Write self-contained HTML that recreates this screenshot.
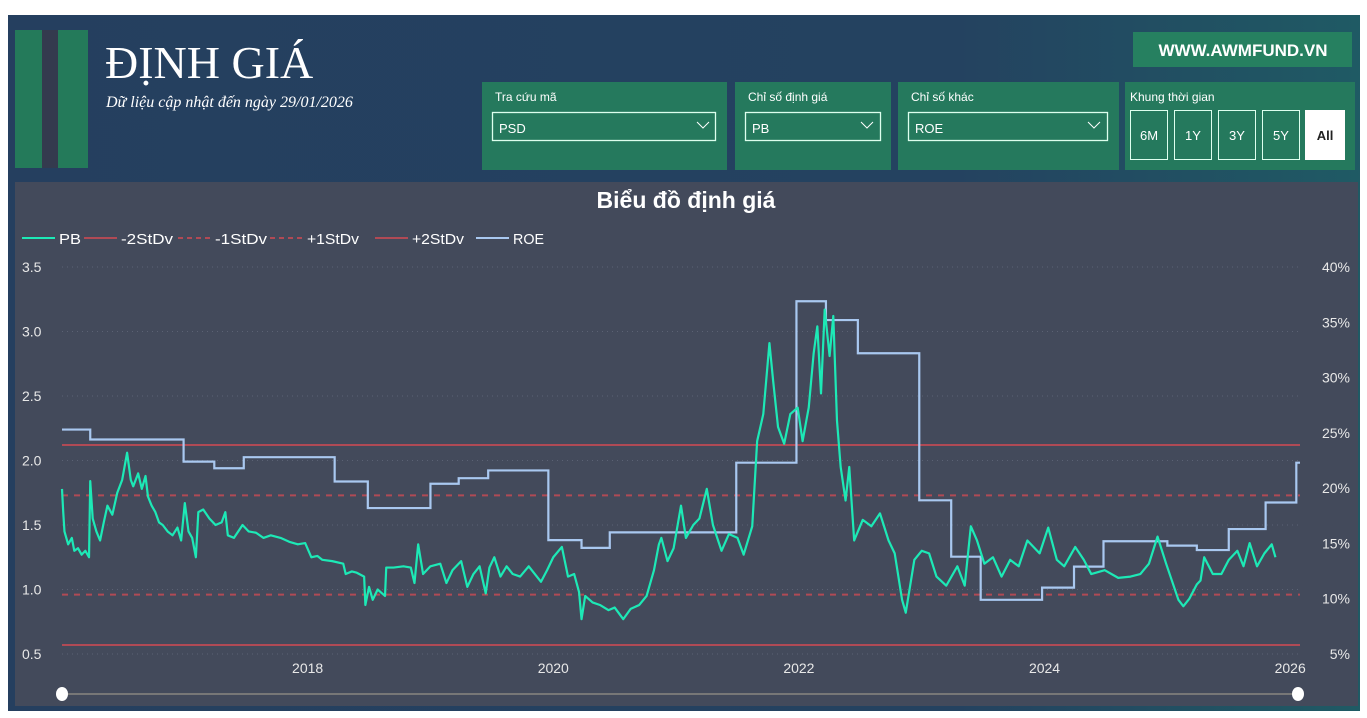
<!DOCTYPE html>
<html><head><meta charset="utf-8"><style>
body{margin:0;background:#fff;width:1367px;height:718px;overflow:hidden}
svg{display:block;font-family:"Liberation Sans","DejaVu Sans",sans-serif}
</style></head><body>
<svg id="s" width="1367" height="718" viewBox="0 0 1367 718">
<defs><linearGradient id="bg" x1="0" y1="0" x2="1" y2="0"><stop offset="0" stop-color="#253f5f"/><stop offset="0.7" stop-color="#244260"/><stop offset="1" stop-color="#1f5a64"/></linearGradient></defs>
<rect x="8" y="15" width="1352" height="696" fill="url(#bg)"/>
<g>
<rect x="15" y="30" width="27" height="138" fill="#247a5a"/><rect x="42" y="30" width="16" height="138" fill="#343a4e"/><rect x="58" y="30" width="30" height="138" fill="#247a5a"/></g>
<text x="105" y="78" font-family="Liberation Serif,serif" font-size="46" fill="#fff">ĐỊNH GIÁ</text>
<text x="106" y="107" font-family="Liberation Serif,serif" font-style="italic" font-size="16" fill="#fff">Dữ liệu cập nhật đến ngày 29/01/2026</text>
<g><rect x="1133" y="32" width="219" height="35" fill="#268060"/><text x="1243" y="56" text-anchor="middle" font-size="17" font-weight="bold" fill="#fff">WWW.AWMFUND.VN</text></g>
<g><rect x="482" y="82" width="245" height="88" fill="#25795d"/><text x="495" y="101" font-size="12" fill="#fff">Tra cứu mã</text>
<g><rect x="492.5" y="112.5" width="223" height="28" fill="none" stroke="#dfe" stroke-width="1.3"/><text x="499" y="133" font-size="13" fill="#fff">PSD</text><path d="M697 122l6 6 6-6" fill="none" stroke="#fff"/></g></g>
<g><rect x="735" y="82" width="156" height="88" fill="#25795d"/><text x="748" y="101" font-size="12" fill="#fff">Chỉ số định giá</text>
<g><rect x="745.5" y="112.5" width="135" height="28" fill="none" stroke="#dfe" stroke-width="1.3"/><text x="752" y="133" font-size="13" fill="#fff">PB</text><path d="M861 122l6 6 6-6" fill="none" stroke="#fff"/></g></g>
<g><rect x="898" y="82" width="221" height="88" fill="#25795d"/><text x="911" y="101" font-size="12" fill="#fff">Chỉ số khác</text>
<g><rect x="908.5" y="112.5" width="199" height="28" fill="none" stroke="#dfe" stroke-width="1.3"/><text x="915" y="133" font-size="13" fill="#fff">ROE</text><path d="M1088 122l6 6 6-6" fill="none" stroke="#fff"/></g></g>
<g><rect x="1125" y="82" width="230" height="88" fill="#25795d"/><text x="1130" y="101" font-size="12" fill="#fff">Khung thời gian</text>
<g><rect x="1130.5" y="110.5" width="37" height="49" fill="none" stroke="#dfe"/><text x="1149" y="140" text-anchor="middle" font-size="13" fill="#fff">6M</text></g>
<g><rect x="1174.5" y="110.5" width="37" height="49" fill="none" stroke="#dfe"/><text x="1193" y="140" text-anchor="middle" font-size="13" fill="#fff">1Y</text></g>
<g><rect x="1218.5" y="110.5" width="37" height="49" fill="none" stroke="#dfe"/><text x="1237" y="140" text-anchor="middle" font-size="13" fill="#fff">3Y</text></g>
<g><rect x="1262.5" y="110.5" width="37" height="49" fill="none" stroke="#dfe"/><text x="1281" y="140" text-anchor="middle" font-size="13" fill="#fff">5Y</text></g>
<g><rect x="1305" y="110" width="40" height="50" fill="#fff"/><text x="1325" y="140" text-anchor="middle" font-size="13" font-weight="bold" fill="#222">All</text></g></g>
<rect x="15" y="182" width="1343" height="524" fill="#434a5b"/>
<text x="686" y="208" text-anchor="middle" font-size="23" font-weight="bold" fill="#fff">Biểu đồ định giá</text>
<g id="legend" fill="#fff"></g>
<g id="grid"></g><g id="axes"></g><g id="marks"></g>
<g><line x1="62" y1="694" x2="1298" y2="694" stroke="#777" stroke-width="2"/>
<ellipse cx="62" cy="694" rx="6" ry="7" fill="#fff"/><ellipse cx="1298" cy="694" rx="6" ry="7" fill="#fff"/></g>
</svg>
<script>
const leftTicks=[0.5,1.0,1.5,2.0,2.5,3.0,3.5];
const rightTicks=[5,10,15,20,25,30,35,40];
const xTicks=[2018,2020,2022,2024,2026];
const stdNames=["-2StDv","-1StDv","+1StDv","+2StDv"];
const stdValues=[0.57,0.96,1.73,2.12];
const roeDates=[2016.0,2016.23,2016.99,2017.24,2017.48,2018.22,2018.49,2019.0,2019.23,2019.47,2019.96,2020.23,2020.46,2021.46,2021.49,2021.98,2022.22,2022.48,2022.98,2023.24,2023.48,2023.98,2024.24,2024.48,2025.0,2025.24,2025.5,2025.8,2026.05,2026.08];
const roeValues=[25.3,24.4,22.4,21.8,22.8,20.6,18.2,20.4,20.9,21.6,15.3,14.6,16.0,16.0,22.3,36.9,35.2,32.2,18.9,13.8,9.9,11.0,12.9,15.2,14.8,14.4,16.3,18.7,22.3,22.3];
const pbDates=[2016.0,2016.01,2016.02,2016.05,2016.08,2016.1,2016.13,2016.16,2016.19,2016.22,2016.23,2016.25,2016.28,2016.31,2016.34,2016.37,2016.41,2016.45,2016.49,2016.53,2016.56,2016.58,2016.62,2016.65,2016.68,2016.7,2016.73,2016.76,2016.79,2016.82,2016.86,2016.9,2016.94,2016.97,2017.0,2017.03,2017.06,2017.09,2017.11,2017.15,2017.2,2017.25,2017.3,2017.33,2017.35,2017.4,2017.47,2017.52,2017.58,2017.64,2017.7,2017.78,2017.85,2017.92,2017.98,2018.03,2018.08,2018.12,2018.2,2018.29,2018.31,2018.36,2018.4,2018.46,2018.47,2018.5,2018.53,2018.57,2018.63,2018.64,2018.7,2018.78,2018.84,2018.87,2018.9,2018.94,2019.0,2019.08,2019.13,2019.18,2019.25,2019.3,2019.35,2019.4,2019.45,2019.48,2019.52,2019.57,2019.62,2019.67,2019.73,2019.8,2019.85,2019.9,2019.95,2020.0,2020.07,2020.12,2020.17,2020.21,2020.23,2020.26,2020.32,2020.38,2020.45,2020.5,2020.57,2020.63,2020.7,2020.76,2020.82,2020.86,2020.88,2020.93,2020.98,2021.04,2021.08,2021.14,2021.19,2021.25,2021.3,2021.37,2021.43,2021.5,2021.55,2021.62,2021.66,2021.71,2021.76,2021.79,2021.83,2021.88,2021.93,2021.99,2022.03,2022.08,2022.12,2022.15,2022.18,2022.21,2022.25,2022.28,2022.31,2022.34,2022.38,2022.41,2022.45,2022.52,2022.59,2022.66,2022.73,2022.78,2022.84,2022.87,2022.94,2023.0,2023.06,2023.12,2023.2,2023.29,2023.35,2023.4,2023.45,2023.51,2023.58,2023.65,2023.72,2023.79,2023.86,2023.96,2024.03,2024.1,2024.16,2024.25,2024.32,2024.38,2024.49,2024.6,2024.7,2024.78,2024.85,2024.92,2024.99,2025.09,2025.13,2025.18,2025.24,2025.27,2025.3,2025.37,2025.44,2025.5,2025.57,2025.62,2025.67,2025.73,2025.79,2025.85,2025.88,2025.92,2025.96,2026.0,2026.03,2026.06];
const pbValues=[1.78,1.6,1.45,1.35,1.40,1.30,1.32,1.27,1.30,1.25,1.84,1.55,1.45,1.38,1.52,1.65,1.58,1.75,1.85,2.06,1.85,1.80,1.90,1.78,1.88,1.72,1.65,1.60,1.52,1.50,1.45,1.42,1.48,1.38,1.67,1.45,1.40,1.25,1.60,1.62,1.55,1.50,1.52,1.60,1.42,1.40,1.50,1.45,1.44,1.40,1.42,1.40,1.37,1.35,1.36,1.25,1.26,1.23,1.22,1.20,1.12,1.14,1.13,1.10,0.88,1.02,0.92,1.00,0.95,1.17,1.17,1.18,1.17,1.05,1.35,1.12,1.18,1.20,1.05,1.15,1.22,1.02,1.12,1.18,0.97,1.17,1.25,1.10,1.18,1.12,1.10,1.18,1.12,1.06,1.15,1.25,1.33,1.10,1.12,0.98,0.77,0.95,0.90,0.88,0.84,0.86,0.77,0.85,0.88,0.95,1.15,1.35,1.40,1.22,1.32,1.65,1.40,1.50,1.55,1.78,1.50,1.30,1.43,1.40,1.27,1.49,2.15,2.36,2.91,2.62,2.26,2.13,2.36,2.41,2.15,2.41,2.83,3.04,2.52,3.17,2.81,3.12,2.31,1.95,1.69,1.95,1.38,1.54,1.49,1.59,1.38,1.28,0.92,0.82,1.23,1.30,1.28,1.10,1.03,1.18,1.03,1.49,1.38,1.20,1.25,1.10,1.23,1.18,1.38,1.28,1.48,1.23,1.18,1.33,1.23,1.12,1.15,1.09,1.10,1.12,1.20,1.41,1.20,0.92,0.87,0.93,1.04,1.07,1.25,1.12,1.12,1.23,1.30,1.18,1.36,1.18,1.28,1.35,1.25];

const NS="http://www.w3.org/2000/svg";
const X0=62,X1=1300,T0=2016.0,T1=2026.08;
function xs(t){return X0+(t-T0)/(T1-T0)*(X1-X0);}
function yl(v){return 654-(v-0.5)*129;}
function yr(p){return 654-(p-5)*(387/35);}
function mk(tag,attrs,parent){const e=document.createElementNS(NS,tag);for(const k in attrs)e.setAttribute(k,attrs[k]);parent.appendChild(e);return e;}
const grid=document.getElementById('grid'),axes=document.getElementById('axes'),marks=document.getElementById('marks'),legend=document.getElementById('legend');
leftTicks.forEach(v=>{
  const l=mk('line',{x1:62,x2:1300,y1:yl(v),y2:yl(v),stroke:'#5b6274','stroke-dasharray':'1 4'},grid);
  
  
  const t=mk('text',{x:22,y:yl(v)+5,'font-size':14,fill:'#e8e8e8'},axes);t.textContent=v.toFixed(1);
  
  
});
rightTicks.forEach(p=>{
  const t=mk('text',{x:1350,y:yr(p)+5,'font-size':14,fill:'#e8e8e8','text-anchor':'end'},axes);t.textContent=p+'%';
  
  
});
xTicks.forEach(y=>{
  const t=mk('text',{x:xs(y),y:673,'font-size':14,fill:'#e8e8e8','text-anchor':'middle'},axes);t.textContent=y;
  
  
});
stdValues.forEach((v,i)=>{
  const solid=(i===0||i===3);
  const a={x1:62,x2:1300,y1:yl(v),y2:yl(v),stroke:'#b04a55','stroke-width':2};
  if(!solid)a['stroke-dasharray']='6 6';
  const l=mk('line',a,marks);
  
  
});
let d='';roeDates.forEach((t,i)=>{const x=xs(t),y=yr(roeValues[i]);if(i===0)d='M'+x+' '+y;else d+=' H'+x+' V'+y;});
const roe=mk('path',{d:d,fill:'none',stroke:'#a9c8f0','stroke-width':2.2},marks);


const pb=mk('polyline',{points:pbDates.map((t,i)=>xs(t)+','+yl(pbValues[i])).join(' '),fill:'none',stroke:'#1de9b6','stroke-width':2.2,'stroke-linejoin':'round'},marks);


const legItems=[["PB","#1de9b6",0],["-2StDv","#b04a55",0],["-1StDv","#b04a55",1],["+1StDv","#b04a55",1],["+2StDv","#b04a55",0],["ROE","#a9c8f0",0]];
const legX=[22,84,178,270,375,476];
legItems.forEach((it,i)=>{
  const g=mk('g',{},legend);
  
  
  const a={x1:legX[i],x2:legX[i]+33,y1:238,y2:238,stroke:it[1],'stroke-width':2};
  if(it[2])a['stroke-dasharray']='5 4';
  mk('line',a,g);
  const t=mk('text',{x:legX[i]+37,y:244,'font-size':15,fill:'#fff',textLength:(it[0].length>2?(it[0]==='ROE'?31:52):22),lengthAdjust:'spacingAndGlyphs'},g);t.textContent=it[0];
});
</script>
</body></html>
